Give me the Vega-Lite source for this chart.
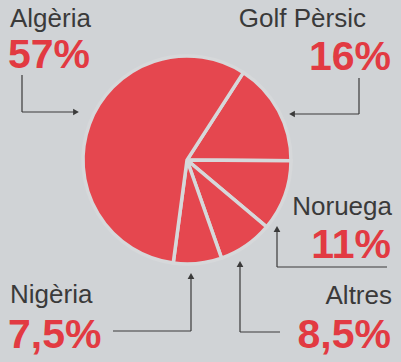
{
  "$schema": "https://vega.github.io/schema/vega-lite/v6.json",
  "width": 374,
  "height": 320,
  "autosize": {"type": "none"},
  "padding": {"left": 0, "top": 0, "right": 27, "bottom": 42},
  "background": "#d0d3d6",
  "config": {
    "view": {"stroke": null},
    "locale": {"number": {"decimal": ",", "thousands": ".", "grouping": [3], "currency": ["", " €"]}}
  },
  "data": {
    "values": [
      {"country": "Golf Pèrsic", "share": 0.16},
      {"country": "Noruega", "share": 0.11},
      {"country": "Altres", "share": 0.085},
      {"country": "Nigèria", "share": 0.075},
      {"country": "Algèria", "share": 0.57}
    ]
  },
  "layer": [
    {
      "mark": {"type": "arc", "outerRadius": 104, "stroke": "#d6d8da", "strokeWidth": 3.5, "color": "#e5474f"},
      "encoding": {
        "theta": {"field": "share", "type": "quantitative", "stack": true, "scale": {"range": [0.5725, 6.8557]}}
      }
    },
    {
      "transform": [{"filter": "datum.country === 'Algèria'"}],
      "layer": [
        {"mark": {"type": "text", "align": "left", "baseline": "alphabetic", "font": "Liberation Sans", "fontSize": 26, "color": "#3a3a3a"},
         "encoding": {"x": {"datum": 10, "type": "quantitative", "scale": {"domain": [0, 374], "nice": false, "zero": false}, "axis": null}, "y": {"datum": 27, "type": "quantitative", "scale": {"domain": [0, 320], "nice": false, "zero": false, "reverse": true}, "axis": null}, "text": {"field": "country"}}},
        {"mark": {"type": "text", "align": "left", "baseline": "alphabetic", "font": "Liberation Sans", "fontSize": 41, "fontWeight": "bold", "color": "#e23a42"},
         "encoding": {"x": {"datum": 8, "type": "quantitative"}, "y": {"datum": 68, "type": "quantitative"}, "text": {"field": "share", "type": "quantitative", "format": ".1~%"}}},
        {"mark": {"type": "rule", "color": "#3a3a3a", "strokeWidth": 1.2},
         "encoding": {"x": {"datum": 22, "type": "quantitative"}, "y": {"datum": 75, "type": "quantitative"}, "y2": {"datum": 112}}},
        {"mark": {"type": "rule", "color": "#3a3a3a", "strokeWidth": 1.2},
         "encoding": {"x": {"datum": 22, "type": "quantitative"}, "x2": {"datum": 76}, "y": {"datum": 112, "type": "quantitative"}}},
        {"mark": {"type": "point", "shape": "triangle-right", "filled": true, "size": 45, "color": "#3a3a3a", "opacity": 1},
         "encoding": {"x": {"datum": 76, "type": "quantitative"}, "y": {"datum": 112, "type": "quantitative"}}}
      ]
    },
    {
      "transform": [{"filter": "datum.country === 'Golf Pèrsic'"}],
      "layer": [
        {"mark": {"type": "text", "align": "right", "baseline": "alphabetic", "font": "Liberation Sans", "fontSize": 26, "color": "#3a3a3a"},
         "encoding": {"x": {"datum": 366, "type": "quantitative"}, "y": {"datum": 27, "type": "quantitative"}, "text": {"field": "country"}}},
        {"mark": {"type": "text", "align": "right", "baseline": "alphabetic", "font": "Liberation Sans", "fontSize": 41, "fontWeight": "bold", "color": "#e23a42"},
         "encoding": {"x": {"datum": 391, "type": "quantitative"}, "y": {"datum": 70, "type": "quantitative"}, "text": {"field": "share", "type": "quantitative", "format": ".1~%"}}},
        {"mark": {"type": "rule", "color": "#3a3a3a", "strokeWidth": 1.2},
         "encoding": {"x": {"datum": 359, "type": "quantitative"}, "y": {"datum": 78, "type": "quantitative"}, "y2": {"datum": 114}}},
        {"mark": {"type": "rule", "color": "#3a3a3a", "strokeWidth": 1.2},
         "encoding": {"x": {"datum": 292, "type": "quantitative"}, "x2": {"datum": 359}, "y": {"datum": 114, "type": "quantitative"}}},
        {"mark": {"type": "point", "shape": "triangle-left", "filled": true, "size": 45, "color": "#3a3a3a", "opacity": 1},
         "encoding": {"x": {"datum": 292, "type": "quantitative"}, "y": {"datum": 114, "type": "quantitative"}}}
      ]
    },
    {
      "transform": [{"filter": "datum.country === 'Noruega'"}],
      "layer": [
        {"mark": {"type": "text", "align": "right", "baseline": "alphabetic", "font": "Liberation Sans", "fontSize": 26, "color": "#3a3a3a"},
         "encoding": {"x": {"datum": 392, "type": "quantitative"}, "y": {"datum": 215, "type": "quantitative"}, "text": {"field": "country"}}},
        {"mark": {"type": "text", "align": "right", "baseline": "alphabetic", "font": "Liberation Sans", "fontSize": 41, "fontWeight": "bold", "color": "#e23a42"},
         "encoding": {"x": {"datum": 391, "type": "quantitative"}, "y": {"datum": 258, "type": "quantitative"}, "text": {"field": "share", "type": "quantitative", "format": ".1~%"}}},
        {"mark": {"type": "rule", "color": "#3a3a3a", "strokeWidth": 1.2},
         "encoding": {"x": {"datum": 277, "type": "quantitative"}, "y": {"datum": 229, "type": "quantitative"}, "y2": {"datum": 267}}},
        {"mark": {"type": "rule", "color": "#3a3a3a", "strokeWidth": 1.2},
         "encoding": {"x": {"datum": 277, "type": "quantitative"}, "x2": {"datum": 387}, "y": {"datum": 267, "type": "quantitative"}}},
        {"mark": {"type": "point", "shape": "triangle-up", "filled": true, "size": 45, "color": "#3a3a3a", "opacity": 1},
         "encoding": {"x": {"datum": 277, "type": "quantitative"}, "y": {"datum": 229, "type": "quantitative"}}}
      ]
    },
    {
      "transform": [{"filter": "datum.country === 'Altres'"}],
      "layer": [
        {"mark": {"type": "text", "align": "right", "baseline": "alphabetic", "font": "Liberation Sans", "fontSize": 26, "color": "#3a3a3a"},
         "encoding": {"x": {"datum": 392, "type": "quantitative"}, "y": {"datum": 304, "type": "quantitative"}, "text": {"field": "country"}}},
        {"mark": {"type": "text", "align": "right", "baseline": "alphabetic", "font": "Liberation Sans", "fontSize": 41, "fontWeight": "bold", "color": "#e23a42"},
         "encoding": {"x": {"datum": 391, "type": "quantitative"}, "y": {"datum": 348, "type": "quantitative"}, "text": {"field": "share", "type": "quantitative", "format": ".1~%"}}},
        {"mark": {"type": "rule", "color": "#3a3a3a", "strokeWidth": 1.2},
         "encoding": {"x": {"datum": 240, "type": "quantitative"}, "y": {"datum": 264, "type": "quantitative"}, "y2": {"datum": 332}}},
        {"mark": {"type": "rule", "color": "#3a3a3a", "strokeWidth": 1.2},
         "encoding": {"x": {"datum": 240, "type": "quantitative"}, "x2": {"datum": 280}, "y": {"datum": 332, "type": "quantitative"}}},
        {"mark": {"type": "point", "shape": "triangle-up", "filled": true, "size": 45, "color": "#3a3a3a", "opacity": 1},
         "encoding": {"x": {"datum": 240, "type": "quantitative"}, "y": {"datum": 264, "type": "quantitative"}}}
      ]
    },
    {
      "transform": [{"filter": "datum.country === 'Nigèria'"}],
      "layer": [
        {"mark": {"type": "text", "align": "left", "baseline": "alphabetic", "font": "Liberation Sans", "fontSize": 26, "color": "#3a3a3a"},
         "encoding": {"x": {"datum": 10, "type": "quantitative"}, "y": {"datum": 303, "type": "quantitative"}, "text": {"field": "country"}}},
        {"mark": {"type": "text", "align": "left", "baseline": "alphabetic", "font": "Liberation Sans", "fontSize": 41, "fontWeight": "bold", "color": "#e23a42"},
         "encoding": {"x": {"datum": 8, "type": "quantitative"}, "y": {"datum": 348, "type": "quantitative"}, "text": {"field": "share", "type": "quantitative", "format": ".1~%"}}},
        {"mark": {"type": "rule", "color": "#3a3a3a", "strokeWidth": 1.2},
         "encoding": {"x": {"datum": 191, "type": "quantitative"}, "y": {"datum": 276, "type": "quantitative"}, "y2": {"datum": 331}}},
        {"mark": {"type": "rule", "color": "#3a3a3a", "strokeWidth": 1.2},
         "encoding": {"x": {"datum": 113, "type": "quantitative"}, "x2": {"datum": 191}, "y": {"datum": 331, "type": "quantitative"}}},
        {"mark": {"type": "point", "shape": "triangle-up", "filled": true, "size": 45, "color": "#3a3a3a", "opacity": 1},
         "encoding": {"x": {"datum": 191, "type": "quantitative"}, "y": {"datum": 276, "type": "quantitative"}}}
      ]
    }
  ]
}
